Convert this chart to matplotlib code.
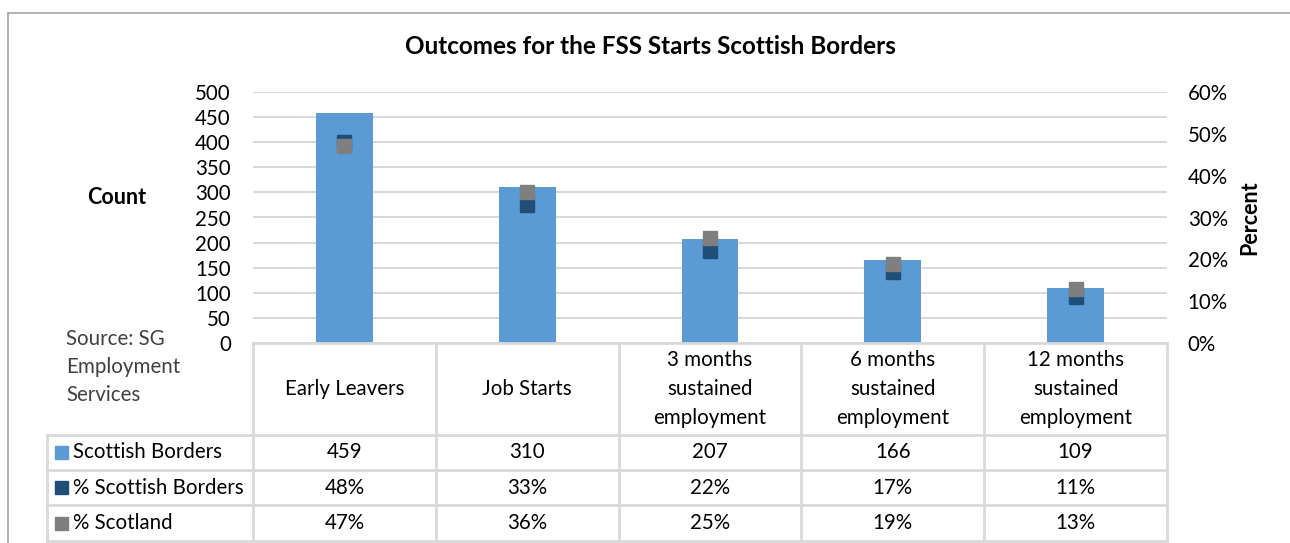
import matplotlib
matplotlib.use("Agg")
import matplotlib.pyplot as plt
from matplotlib.patches import Rectangle
from matplotlib.lines import Line2D

plt.rcParams['font.family'] = ['Lato', 'DejaVu Sans']

# Data
categories = ["Early Leavers", "Job Starts", "3 months\nsustained\nemployment",
              "6 months\nsustained\nemployment", "12 months\nsustained\nemployment"]
borders_count = [459, 310, 207, 166, 109]
pct_borders = [0.48, 0.33, 0.22, 0.17, 0.11]
pct_scotland = [0.47, 0.36, 0.25, 0.19, 0.13]
series_names = ["Scottish Borders", "% Scottish Borders", "% Scotland"]
count_ticks = [0, 50, 100, 150, 200, 250, 300, 350, 400, 450, 500]
pct_ticks = [0.0, 0.1, 0.2, 0.3, 0.4, 0.5, 0.6]

BAR = '#5B9BD5'
DARK = '#1F4E79'
GREY = '#7F7F7F'
GRID = '#D9D9D9'
FS = 14.8

W, H = 1290, 543
fig = plt.figure(figsize=(W / 100, H / 100), dpi=100)


def frac(l, t, r, b):
    return [l / W, 1 - b / H, (r - l) / W, (b - t) / H]


# Outer chart frame
fig.add_artist(Line2D([8 / W, 8 / W], [0, 1 - 13 / H], color='#A6A6A6', lw=1.2))
fig.add_artist(Line2D([8 / W, 1], [1 - 13 / H, 1 - 13 / H], color='#A6A6A6', lw=1.2))

# Main plot
ax = fig.add_axes(frac(253, 92, 1167, 343))
n = len(categories)
xs = list(range(n))
ax.set_xlim(-0.5, n - 0.5)
ax.set_ylim(0, 500)
ax.bar(xs, borders_count, width=0.31, color=BAR, zorder=2)
ax.set_yticks(count_ticks)
ax.set_yticklabels([str(v) for v in count_ticks], fontsize=FS)
ax.tick_params(axis='y', length=0, pad=16)
ax.set_xticks([])
ax.grid(axis='y', color=GRID, lw=1.5, zorder=0)
ax.set_axisbelow(True)
for s in ax.spines.values():
    s.set_visible(False)

ax2 = ax.twinx()
ax2.set_ylim(0, 0.6)
ax2.set_yticks(pct_ticks)
ax2.set_yticklabels([f"{int(round(v * 100))}%" for v in pct_ticks], fontsize=FS)
ax2.tick_params(axis='y', length=0, pad=15)
for s in ax2.spines.values():
    s.set_visible(False)
ax2.plot(xs, pct_borders, ls='none', marker='s', ms=10, color=DARK, zorder=3)
ax2.plot(xs, pct_scotland, ls='none', marker='s', ms=10, color=GREY, zorder=4)

fig.text(650 / W, 1 - 47 / H, "Outcomes for the FSS Starts Scottish Borders",
         ha='center', va='center', fontsize=17.5, fontweight='bold')
fig.text(117 / W, 1 - 198 / H, "Count", ha='center', va='center',
         fontsize=15.5, fontweight='bold')
fig.text(1250 / W, 1 - 218 / H, "Percent", ha='center', va='center',
         fontsize=15.5, fontweight='bold', rotation=90)
fig.text(66 / W, 1 - 367 / H, "Source: SG\nEmployment\nServices", ha='left',
         va='center', fontsize=FS, color='#404040', linespacing=1.5)

# Data table beneath the plot, sharing the category columns
colw = (1167 - 253) / n
lab_w = (253 - 47) / colw
tab = fig.add_axes(frac(47, 343, 1167, 541))
tab.set_xlim(-0.5 - lab_w, n - 0.5)
tab.set_ylim(198, 0)
tab.axis('off')
row_edges = [0, 92, 127, 162, 198]
lc = dict(color=GRID, lw=2, clip_on=False)
for i in range(n + 1):
    tab.plot([i - 0.5, i - 0.5], [0, 198], **lc)
tab.plot([-0.5 - lab_w, -0.5 - lab_w], [92, 198], **lc)
tab.plot([-0.5, n - 0.5], [0, 0], **lc)
for y in row_edges[1:]:
    tab.plot([-0.5 - lab_w, n - 0.5], [y, y], **lc)

for i, c in enumerate(categories):
    tab.text(i, 46, c, ha='center', va='center', fontsize=FS, linespacing=1.55)

rows = [
    [str(v) for v in borders_count],
    [f"{int(round(v * 100))}%" for v in pct_borders],
    [f"{int(round(v * 100))}%" for v in pct_scotland],
]
colors = [BAR, DARK, GREY]
for r, (vals, name, col) in enumerate(zip(rows, series_names, colors)):
    yc = (row_edges[r + 1] + row_edges[r + 2]) / 2
    for i, v in enumerate(vals):
        tab.text(i, yc, v, ha='center', va='center', fontsize=FS)
    x0 = -0.5 - lab_w + 8 / colw
    tab.add_patch(Rectangle((x0, yc - 6.5), 13 / colw, 13, color=col, clip_on=False))
    tab.text(x0 + 18 / colw, yc, name, ha='left', va='center', fontsize=FS)

fig.savefig("out.png", dpi=100)
